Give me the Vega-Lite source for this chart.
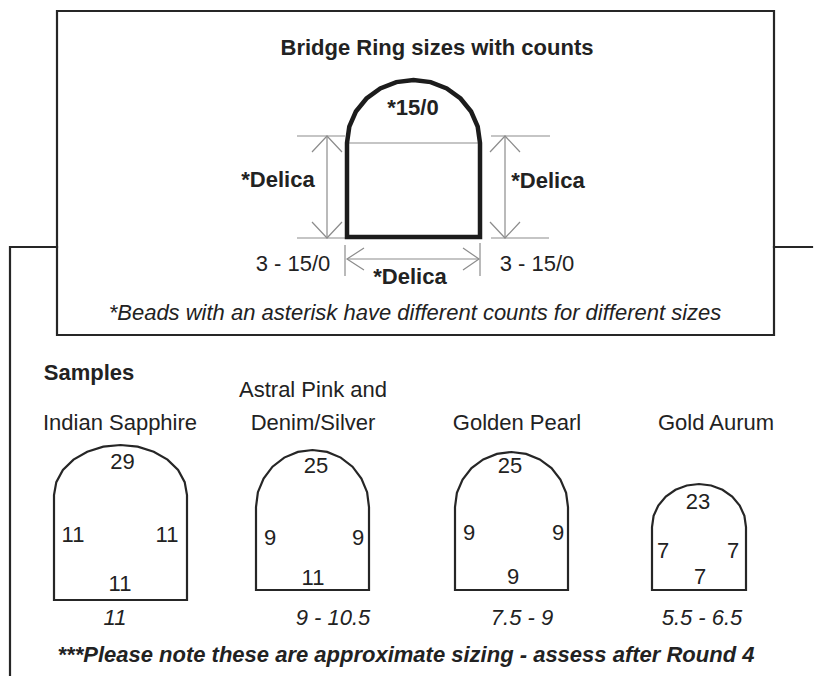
{
  "$schema": "https://vega.github.io/schema/vega-lite/v6.json",
  "width": 814,
  "height": 677,
  "autosize": {"type": "fit", "contains": "padding"},
  "padding": 0,
  "background": "white",
  "config": {"view": {"stroke": null}},
  "datasets": {
    "lines": [
      {"g": "F1", "c": "m", "o": 1, "x": 57, "y": 11},
      {"g": "F1", "c": "m", "o": 2, "x": 774, "y": 11},
      {"g": "F1", "c": "m", "o": 3, "x": 774, "y": 335},
      {"g": "F1", "c": "m", "o": 4, "x": 57, "y": 335},
      {"g": "F1", "c": "m", "o": 5, "x": 57, "y": 11},
      {"g": "F2", "c": "m", "o": 1, "x": 57, "y": 247},
      {"g": "F2", "c": "m", "o": 2, "x": 10, "y": 247},
      {"g": "F2", "c": "m", "o": 3, "x": 10, "y": 675},
      {"g": "F3", "c": "m", "o": 1, "x": 774, "y": 247},
      {"g": "F3", "c": "m", "o": 2, "x": 812, "y": 247},

      {"g": "A", "c": "k", "o": 1, "x": 347, "y": 237},
      {"g": "A", "c": "k", "o": 2, "x": 347, "y": 143},
      {"g": "A", "c": "k", "o": 3, "x": 349.3, "y": 126.7},
      {"g": "A", "c": "k", "o": 4, "x": 355.9, "y": 111.5},
      {"g": "A", "c": "k", "o": 5, "x": 366.5, "y": 98.5},
      {"g": "A", "c": "k", "o": 6, "x": 380.25, "y": 88.4},
      {"g": "A", "c": "k", "o": 7, "x": 396.3, "y": 82.1},
      {"g": "A", "c": "k", "o": 8, "x": 413.5, "y": 80},
      {"g": "A", "c": "k", "o": 9, "x": 430.7, "y": 82.1},
      {"g": "A", "c": "k", "o": 10, "x": 446.75, "y": 88.4},
      {"g": "A", "c": "k", "o": 11, "x": 460.5, "y": 98.5},
      {"g": "A", "c": "k", "o": 12, "x": 471.1, "y": 111.5},
      {"g": "A", "c": "k", "o": 13, "x": 477.7, "y": 126.7},
      {"g": "A", "c": "k", "o": 14, "x": 480, "y": 143},
      {"g": "A", "c": "k", "o": 15, "x": 480, "y": 237},
      {"g": "A", "c": "k", "o": 16, "x": 347, "y": 237},

      {"g": "S1", "c": "m", "o": 1, "x": 54, "y": 600},
      {"g": "S1", "c": "m", "o": 2, "x": 54, "y": 495},
      {"g": "S1", "c": "m", "o": 3, "x": 56.3, "y": 482.1},
      {"g": "S1", "c": "m", "o": 4, "x": 62.9, "y": 470},
      {"g": "S1", "c": "m", "o": 5, "x": 73.5, "y": 459.6},
      {"g": "S1", "c": "m", "o": 6, "x": 87.25, "y": 451.7},
      {"g": "S1", "c": "m", "o": 7, "x": 103.3, "y": 446.7},
      {"g": "S1", "c": "m", "o": 8, "x": 120.5, "y": 445},
      {"g": "S1", "c": "m", "o": 9, "x": 137.7, "y": 446.7},
      {"g": "S1", "c": "m", "o": 10, "x": 153.75, "y": 451.7},
      {"g": "S1", "c": "m", "o": 11, "x": 167.5, "y": 459.6},
      {"g": "S1", "c": "m", "o": 12, "x": 178.1, "y": 470},
      {"g": "S1", "c": "m", "o": 13, "x": 184.7, "y": 482.1},
      {"g": "S1", "c": "m", "o": 14, "x": 187, "y": 495},
      {"g": "S1", "c": "m", "o": 15, "x": 187, "y": 600},
      {"g": "S1", "c": "m", "o": 16, "x": 54, "y": 600},

      {"g": "S2", "c": "m", "o": 1, "x": 256, "y": 590},
      {"g": "S2", "c": "m", "o": 2, "x": 256, "y": 507},
      {"g": "S2", "c": "m", "o": 3, "x": 257.9, "y": 492.2},
      {"g": "S2", "c": "m", "o": 4, "x": 263.6, "y": 478.5},
      {"g": "S2", "c": "m", "o": 5, "x": 272.5, "y": 466.7},
      {"g": "S2", "c": "m", "o": 6, "x": 284.25, "y": 457.6},
      {"g": "S2", "c": "m", "o": 7, "x": 297.9, "y": 451.9},
      {"g": "S2", "c": "m", "o": 8, "x": 312.5, "y": 450},
      {"g": "S2", "c": "m", "o": 9, "x": 327.1, "y": 451.9},
      {"g": "S2", "c": "m", "o": 10, "x": 340.75, "y": 457.6},
      {"g": "S2", "c": "m", "o": 11, "x": 352.5, "y": 466.7},
      {"g": "S2", "c": "m", "o": 12, "x": 361.4, "y": 478.5},
      {"g": "S2", "c": "m", "o": 13, "x": 367.1, "y": 492.2},
      {"g": "S2", "c": "m", "o": 14, "x": 369, "y": 507},
      {"g": "S2", "c": "m", "o": 15, "x": 369, "y": 590},
      {"g": "S2", "c": "m", "o": 16, "x": 256, "y": 590},

      {"g": "S3", "c": "m", "o": 1, "x": 455, "y": 590},
      {"g": "S3", "c": "m", "o": 2, "x": 455, "y": 507},
      {"g": "S3", "c": "m", "o": 3, "x": 456.9, "y": 492.8},
      {"g": "S3", "c": "m", "o": 4, "x": 462.6, "y": 479.5},
      {"g": "S3", "c": "m", "o": 5, "x": 471.5, "y": 468.1},
      {"g": "S3", "c": "m", "o": 6, "x": 483.25, "y": 459.4},
      {"g": "S3", "c": "m", "o": 7, "x": 496.9, "y": 453.9},
      {"g": "S3", "c": "m", "o": 8, "x": 511.5, "y": 452},
      {"g": "S3", "c": "m", "o": 9, "x": 526.1, "y": 453.9},
      {"g": "S3", "c": "m", "o": 10, "x": 539.75, "y": 459.4},
      {"g": "S3", "c": "m", "o": 11, "x": 551.5, "y": 468.1},
      {"g": "S3", "c": "m", "o": 12, "x": 560.4, "y": 479.5},
      {"g": "S3", "c": "m", "o": 13, "x": 566.1, "y": 492.8},
      {"g": "S3", "c": "m", "o": 14, "x": 568, "y": 507},
      {"g": "S3", "c": "m", "o": 15, "x": 568, "y": 590},
      {"g": "S3", "c": "m", "o": 16, "x": 455, "y": 590},

      {"g": "S4", "c": "m", "o": 1, "x": 652, "y": 590},
      {"g": "S4", "c": "m", "o": 2, "x": 652, "y": 527},
      {"g": "S4", "c": "m", "o": 3, "x": 653.6, "y": 515.9},
      {"g": "S4", "c": "m", "o": 4, "x": 658.3, "y": 505.5},
      {"g": "S4", "c": "m", "o": 5, "x": 665.8, "y": 496.6},
      {"g": "S4", "c": "m", "o": 6, "x": 675.5, "y": 489.8},
      {"g": "S4", "c": "m", "o": 7, "x": 686.8, "y": 485.5},
      {"g": "S4", "c": "m", "o": 8, "x": 699, "y": 484},
      {"g": "S4", "c": "m", "o": 9, "x": 711.2, "y": 485.5},
      {"g": "S4", "c": "m", "o": 10, "x": 722.5, "y": 489.8},
      {"g": "S4", "c": "m", "o": 11, "x": 732.2, "y": 496.6},
      {"g": "S4", "c": "m", "o": 12, "x": 739.7, "y": 505.5},
      {"g": "S4", "c": "m", "o": 13, "x": 744.4, "y": 515.9},
      {"g": "S4", "c": "m", "o": 14, "x": 746, "y": 527},
      {"g": "S4", "c": "m", "o": 15, "x": 746, "y": 590},
      {"g": "S4", "c": "m", "o": 16, "x": 652, "y": 590},

      {"g": "T1", "c": "t", "o": 1, "x": 347, "y": 143},
      {"g": "T1", "c": "t", "o": 2, "x": 480, "y": 143},
      {"g": "T2", "c": "t", "o": 1, "x": 297, "y": 136},
      {"g": "T2", "c": "t", "o": 2, "x": 345, "y": 136},
      {"g": "T3", "c": "t", "o": 1, "x": 297, "y": 238},
      {"g": "T3", "c": "t", "o": 2, "x": 345, "y": 238},
      {"g": "T4", "c": "t", "o": 1, "x": 327, "y": 136},
      {"g": "T4", "c": "t", "o": 2, "x": 327, "y": 238},
      {"g": "T5", "c": "t", "o": 1, "x": 312, "y": 152},
      {"g": "T5", "c": "t", "o": 2, "x": 327, "y": 136},
      {"g": "T5", "c": "t", "o": 3, "x": 342, "y": 152},
      {"g": "T6", "c": "t", "o": 1, "x": 312, "y": 222},
      {"g": "T6", "c": "t", "o": 2, "x": 327, "y": 238},
      {"g": "T6", "c": "t", "o": 3, "x": 342, "y": 222},
      {"g": "T7", "c": "t", "o": 1, "x": 491, "y": 136},
      {"g": "T7", "c": "t", "o": 2, "x": 550, "y": 136},
      {"g": "T8", "c": "t", "o": 1, "x": 491, "y": 238},
      {"g": "T8", "c": "t", "o": 2, "x": 549, "y": 238},
      {"g": "T9", "c": "t", "o": 1, "x": 505, "y": 136},
      {"g": "T9", "c": "t", "o": 2, "x": 505, "y": 238},
      {"g": "T10", "c": "t", "o": 1, "x": 490, "y": 152},
      {"g": "T10", "c": "t", "o": 2, "x": 505, "y": 136},
      {"g": "T10", "c": "t", "o": 3, "x": 520, "y": 152},
      {"g": "T11", "c": "t", "o": 1, "x": 490, "y": 222},
      {"g": "T11", "c": "t", "o": 2, "x": 505, "y": 238},
      {"g": "T11", "c": "t", "o": 3, "x": 520, "y": 222},
      {"g": "T12", "c": "t", "o": 1, "x": 345, "y": 245},
      {"g": "T12", "c": "t", "o": 2, "x": 345, "y": 276},
      {"g": "T13", "c": "t", "o": 1, "x": 480, "y": 243},
      {"g": "T13", "c": "t", "o": 2, "x": 480, "y": 276},
      {"g": "T14", "c": "t", "o": 1, "x": 347, "y": 259},
      {"g": "T14", "c": "t", "o": 2, "x": 479, "y": 259},
      {"g": "T15", "c": "t", "o": 1, "x": 364, "y": 248},
      {"g": "T15", "c": "t", "o": 2, "x": 347, "y": 259},
      {"g": "T15", "c": "t", "o": 3, "x": 364, "y": 270},
      {"g": "T16", "c": "t", "o": 1, "x": 463, "y": 248},
      {"g": "T16", "c": "t", "o": 2, "x": 479, "y": 259},
      {"g": "T16", "c": "t", "o": 3, "x": 463, "y": 270}
    ],
    "labels": [
      {"t": "Bridge Ring sizes with counts", "k": "b", "x": 437, "y": 48},
      {"t": "*15/0", "k": "b", "x": 413, "y": 108},
      {"t": "*Delica", "k": "b", "x": 278, "y": 180},
      {"t": "*Delica", "k": "b", "x": 548, "y": 181},
      {"t": "*Delica", "k": "b", "x": 410, "y": 277},
      {"t": "3 - 15/0", "k": "n", "x": 293, "y": 264},
      {"t": "3 - 15/0", "k": "n", "x": 537, "y": 264},
      {"t": "*Beads with an asterisk have different counts for different sizes", "k": "i", "x": 415, "y": 313},
      {"t": "Samples", "k": "b", "x": 89, "y": 373},
      {"t": "Astral Pink and", "k": "n", "x": 313, "y": 390},
      {"t": "Indian Sapphire", "k": "n", "x": 120, "y": 423},
      {"t": "Denim/Silver", "k": "n", "x": 313, "y": 423},
      {"t": "Golden Pearl", "k": "n", "x": 517, "y": 423},
      {"t": "Gold Aurum", "k": "n", "x": 716, "y": 423},
      {"t": "29", "k": "n", "x": 122.5, "y": 462},
      {"t": "11", "k": "n", "x": 73, "y": 535},
      {"t": "11", "k": "n", "x": 167, "y": 535},
      {"t": "11", "k": "n", "x": 120, "y": 584},
      {"t": "11", "k": "i", "x": 115, "y": 618},
      {"t": "25", "k": "n", "x": 316, "y": 466},
      {"t": "9", "k": "n", "x": 270, "y": 538},
      {"t": "9", "k": "n", "x": 358, "y": 538},
      {"t": "11", "k": "n", "x": 313, "y": 578},
      {"t": "9 - 10.5", "k": "i", "x": 333, "y": 618},
      {"t": "25", "k": "n", "x": 510, "y": 466},
      {"t": "9", "k": "n", "x": 469, "y": 533},
      {"t": "9", "k": "n", "x": 558, "y": 533},
      {"t": "9", "k": "n", "x": 513, "y": 577},
      {"t": "7.5 - 9", "k": "i", "x": 522, "y": 618},
      {"t": "23", "k": "n", "x": 698, "y": 502},
      {"t": "7", "k": "n", "x": 663, "y": 551},
      {"t": "7", "k": "n", "x": 733, "y": 551},
      {"t": "7", "k": "n", "x": 700, "y": 577},
      {"t": "5.5 - 6.5", "k": "i", "x": 702, "y": 618},
      {"t": "***Please note these are approximate sizing - assess after Round 4", "k": "bi", "x": 406, "y": 655}
    ]
  },
  "encoding": {
    "x": {"field": "x", "type": "quantitative", "scale": {"domain": [0, 814], "nice": false, "zero": false}, "axis": null},
    "y": {"field": "y", "type": "quantitative", "scale": {"domain": [0, 677], "nice": false, "zero": false, "reverse": true}, "axis": null}
  },
  "layer": [
    {
      "data": {"name": "lines"},
      "transform": [{"filter": "datum.c === 't'"}],
      "mark": {"type": "line", "color": "#8c8c8c", "strokeWidth": 1.2, "clip": true},
      "encoding": {"detail": {"field": "g"}, "order": {"field": "o", "type": "quantitative"}}
    },
    {
      "data": {"name": "lines"},
      "transform": [{"filter": "datum.c === 'm'"}],
      "mark": {"type": "line", "color": "#262626", "strokeWidth": 2.2, "strokeCap": "square", "strokeJoin": "miter", "clip": true},
      "encoding": {"detail": {"field": "g"}, "order": {"field": "o", "type": "quantitative"}}
    },
    {
      "data": {"name": "lines"},
      "transform": [{"filter": "datum.c === 'k'"}],
      "mark": {"type": "line", "color": "#1c1c1c", "strokeWidth": 4.5, "strokeCap": "square", "strokeJoin": "miter", "clip": true},
      "encoding": {"detail": {"field": "g"}, "order": {"field": "o", "type": "quantitative"}}
    },
    {
      "data": {"name": "labels"},
      "transform": [{"filter": "datum.k === 'n'"}],
      "mark": {"type": "text", "font": "Liberation Sans", "fontSize": 22, "color": "#222", "align": "center", "baseline": "middle"},
      "encoding": {"text": {"field": "t"}}
    },
    {
      "data": {"name": "labels"},
      "transform": [{"filter": "datum.k === 'b'"}],
      "mark": {"type": "text", "font": "Liberation Sans", "fontSize": 22, "fontWeight": "bold", "color": "#222", "align": "center", "baseline": "middle"},
      "encoding": {"text": {"field": "t"}}
    },
    {
      "data": {"name": "labels"},
      "transform": [{"filter": "datum.k === 'i'"}],
      "mark": {"type": "text", "font": "Liberation Sans", "fontSize": 22, "fontStyle": "italic", "color": "#222", "align": "center", "baseline": "middle"},
      "encoding": {"text": {"field": "t"}}
    },
    {
      "data": {"name": "labels"},
      "transform": [{"filter": "datum.k === 'bi'"}],
      "mark": {"type": "text", "font": "Liberation Sans", "fontSize": 22, "fontWeight": "bold", "fontStyle": "italic", "color": "#222", "align": "center", "baseline": "middle"},
      "encoding": {"text": {"field": "t"}}
    }
  ]
}
